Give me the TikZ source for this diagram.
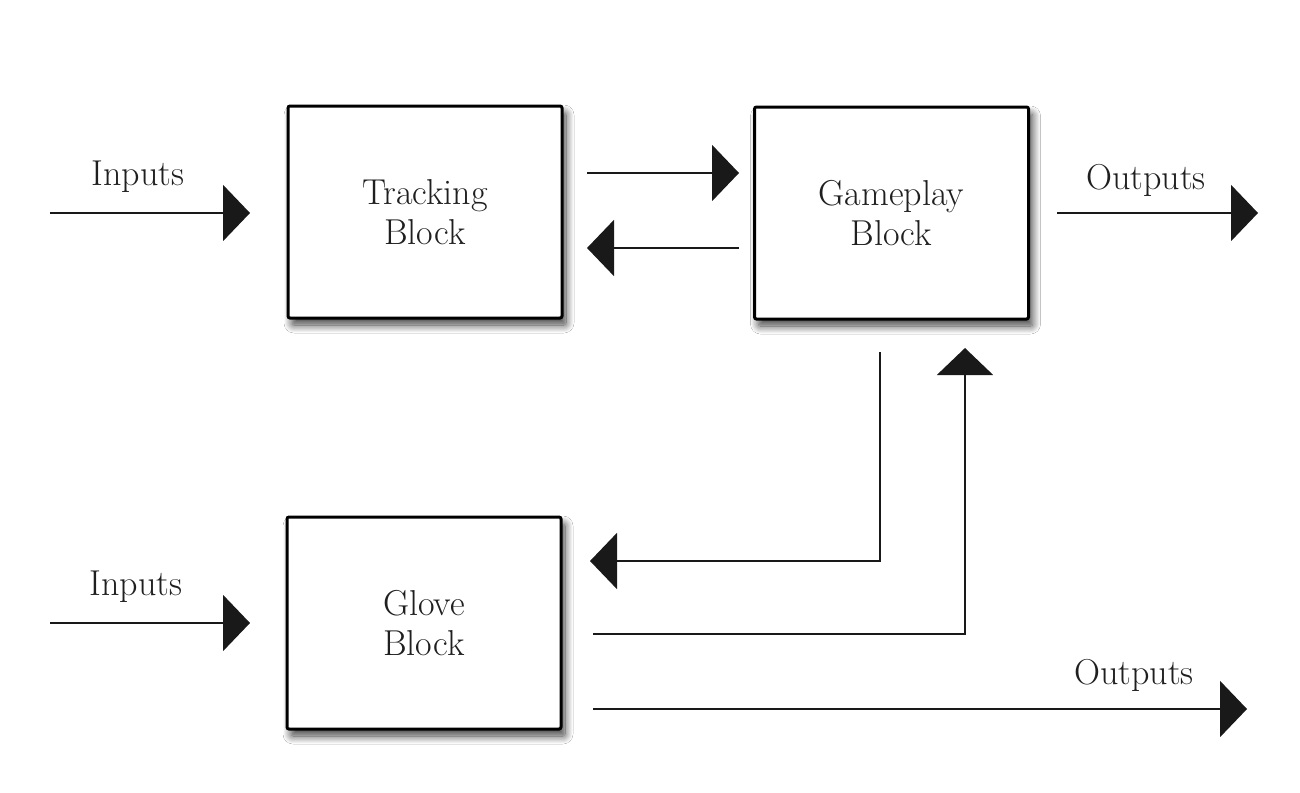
\documentclass[tikz,border=0pt]{standalone}
\usetikzlibrary{arrows.meta,shadows.blur}
\begin{document}
\begin{tikzpicture}[x=1pt,y=-1pt,
  blockbox/.style={draw=black,line width=3pt,fill=white,rounded corners=2pt,
    minimum width=274pt,minimum height=212pt,inner sep=0pt,align=center,
    font=\fontsize{36}{40}\selectfont,text=black!88,
    blur shadow={shadow xshift=4pt,shadow yshift=-7pt,shadow blur radius=8pt,shadow blur steps=14,shadow opacity=75}},
  lbl/.style={inner sep=0pt,font=\fontsize{36}{40}\selectfont,text=black!88},
  conn/.style={line width=2pt,color=black!90,-{Triangle[length=27pt,width=56pt]}}
]
\useasboundingbox (0,0) rectangle (1300,792);
\fill[white] (0,0) rectangle (1300,792);

\node[blockbox] (tr) at (425,212) {Tracking\\Block};
\node[blockbox] (gp) at (891.5,213) {Gameplay\\Block};
\node[blockbox] (gl) at (424,623) {Glove\\Block};

\node[lbl] (in1) at (138,177) {Inputs};
\node[lbl] (in2) at (136,587) {Inputs};
\node[lbl] (out1) at (1146,180) {Outputs};
\node[lbl] (out2) at (1134,675) {Outputs};

% coordinates of free ends
\coordinate (a1s) at (50,213);   \coordinate (a1e) at (250,213);
\coordinate (a2s) at (50,623);   \coordinate (a2e) at (250,623);
\coordinate (tgs) at (587,173);  \coordinate (tge) at (739,173);
\coordinate (gts) at (739,248);  \coordinate (gte) at (587,248);
\coordinate (o1s) at (1057,213); \coordinate (o1e) at (1258,213);
\coordinate (gds) at (880,352);  \coordinate (gdc) at (880,561); \coordinate (gde) at (590,561);
\coordinate (gus) at (593,634);  \coordinate (guc) at (965,634); \coordinate (gue) at (965,348);
\coordinate (o2s) at (593,709);  \coordinate (o2e) at (1247,709);

\draw[conn] (a1s) -- (a1e);
\draw[conn] (a2s) -- (a2e);
\draw[conn] (tgs) -- (tge);
\draw[conn] (gts) -- (gte);
\draw[conn] (o1s) -- (o1e);
\draw[conn] (gds) -- (gdc) -- (gde);
\draw[conn] (gus) -- (guc) -- (gue);
\draw[conn] (o2s) -- (o2e);
\end{tikzpicture}
\end{document}
